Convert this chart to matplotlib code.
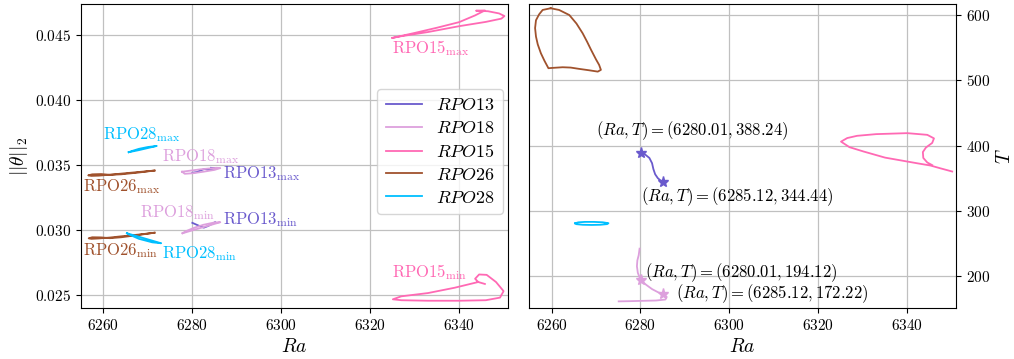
import matplotlib
matplotlib.use("Agg")
import matplotlib.pyplot as plt

plt.rcParams["font.family"] = "serif"
plt.rcParams["font.serif"] = ["cmr10"]
plt.rcParams["mathtext.fontset"] = "cm"
plt.rcParams["axes.formatter.use_mathtext"] = True

C13 = "#6a5acd"
C18 = "#dda0dd"
C15 = "#ff69b4"
C26 = "#a0522d"
C28 = "#00bfff"

# ---- norma ||theta||_2 (max / min) vs Ra ----
rpo13_max_ra = [6280.01, 6281.0, 6282.0, 6282.8, 6283.6, 6284.4, 6285.12, 6284.2]
rpo13_max_th = [0.03440, 0.03445, 0.03460, 0.03470, 0.03462, 0.03468, 0.03475, 0.03478]
rpo13_min_ra = [6280.01, 6281.0, 6282.0, 6282.6, 6283.5, 6284.5, 6285.12]
rpo13_min_th = [0.03055, 0.03040, 0.03025, 0.03018, 0.03030, 0.03048, 0.03060]

rpo18_max_ra = [6277.7, 6279.5, 6281.5, 6283.5, 6285.5, 6286.3, 6285.0, 6282.5, 6280.0, 6278.3, 6277.7]
rpo18_max_th = [0.03448, 0.03456, 0.03465, 0.03472, 0.03478, 0.03476, 0.03462, 0.03448, 0.03436, 0.03432, 0.03448]
rpo18_min_ra = [6277.8, 6279.5, 6281.5, 6283.5, 6285.5, 6286.3, 6285.0, 6282.5, 6280.5, 6278.5, 6277.8]
rpo18_min_th = [0.02975, 0.02992, 0.03012, 0.03032, 0.03052, 0.03060, 0.03058, 0.03040, 0.03018, 0.02990, 0.02975]

rpo15_max_ra = [6325.0, 6330.0, 6335.0, 6340.0, 6343.6, 6345.8, 6343.8, 6346.5, 6349.0, 6350.2,
                6349.5, 6346.0, 6340.0, 6333.0, 6327.0, 6325.0]
rpo15_max_th = [0.04477, 0.04515, 0.04555, 0.04598, 0.04650, 0.04688, 0.04686, 0.04682, 0.04665, 0.04645,
                0.04625, 0.04600, 0.04567, 0.04522, 0.04490, 0.04477]
rpo15_min_ra = [6345.8, 6344.3, 6343.6, 6344.5, 6346.2, 6348.3, 6350.0, 6349.2, 6346.0, 6340.0,
                6333.0, 6327.0, 6325.1, 6327.0, 6333.0, 6339.0, 6344.3]
rpo15_min_th = [0.02585, 0.02600, 0.02625, 0.02658, 0.02655, 0.02600, 0.02530, 0.02480, 0.02460, 0.02456,
                0.02456, 0.02460, 0.02467, 0.02490, 0.02515, 0.02556, 0.02600]

rpo26_max_ra = [6271.5, 6268.0, 6264.5, 6261.5, 6259.0, 6257.3, 6256.6, 6257.5, 6259.5, 6261.5, 6264.0, 6268.0, 6271.5]
rpo26_max_th = [0.03457, 0.03446, 0.03435, 0.03425, 0.03418, 0.03416, 0.03420, 0.03428, 0.03430, 0.03424, 0.03428, 0.03442, 0.03457]
rpo26_min_ra = [6271.5, 6268.0, 6264.5, 6261.5, 6259.0, 6257.3, 6256.7, 6257.5, 6259.5, 6261.5, 6264.0, 6268.0, 6271.5]
rpo26_min_th = [0.02979, 0.02965, 0.02953, 0.02942, 0.02935, 0.02932, 0.02936, 0.02944, 0.02943, 0.02937, 0.02944, 0.02962, 0.02979]

rpo28_max_ra = [6265.7, 6268.0, 6270.0, 6272.0, 6270.0, 6268.0, 6266.5, 6265.7]
rpo28_max_th = [0.03598, 0.03614, 0.03630, 0.03646, 0.03638, 0.03624, 0.03608, 0.03598]
rpo28_min_ra = [6265.3, 6268.0, 6271.0, 6273.0, 6271.0, 6268.0, 6265.8, 6265.3]
rpo28_min_th = [0.02975, 0.02948, 0.02918, 0.02898, 0.02905, 0.02932, 0.02965, 0.02975]

# ---- periodo T vs Ra ----
rpo13_ra = [6280.01, 6281.0, 6282.0, 6282.6, 6282.9, 6283.3, 6283.9, 6284.5, 6285.12]
rpo13_T = [388.24, 386.5, 381.0, 373.0, 364.0, 356.0, 350.0, 346.5, 344.44]

rpo18_ra = [6279.8, 6279.6, 6279.3, 6279.2, 6279.4, 6280.01, 6281.2, 6282.6, 6284.0, 6285.12,
            6285.9, 6285.6, 6283.5, 6280.5, 6277.5, 6275.1]
rpo18_T = [242.0, 232.0, 224.0, 215.0, 205.0, 194.12, 187.0, 180.0, 175.0, 172.22,
           168.0, 164.0, 162.5, 162.0, 161.5, 161.2]

rpo15_ra = [6350.1, 6347.5, 6345.2, 6342.5, 6340.0, 6335.0, 6330.2, 6327.0, 6325.1, 6326.5, 6328.7,
            6333.0, 6340.0, 6344.5, 6346.0, 6345.6, 6344.2, 6343.5, 6343.6, 6344.5, 6345.6]
rpo15_T = [360.2, 365.0, 369.4, 372.5, 375.5, 381.5, 390.8, 397.5, 406.0, 411.5, 414.9,
           417.5, 419.0, 416.4, 411.0, 404.0, 397.0, 390.0, 381.0, 374.0, 370.0]

rpo26_ra = [6259.8, 6261.7, 6264.0, 6265.6, 6267.0, 6268.0, 6268.9, 6270.0, 6270.7, 6271.1, 6270.4,
            6268.3, 6266.2, 6264.3, 6262.5, 6260.2, 6259.3, 6258.4, 6257.6, 6256.9, 6256.5, 6256.3,
            6256.5, 6257.2, 6258.0, 6259.8]
rpo26_T = [610.4, 607.8, 600.0, 587.0, 572.0, 559.0, 546.5, 532.0, 523.6, 516.0, 513.3,
           515.5, 517.5, 519.5, 520.0, 519.0, 518.5, 530.0, 541.5, 555.0, 567.0, 580.0,
           592.0, 601.0, 607.8, 610.4]

rpo28_ra = [6265.3, 6266.0, 6267.5, 6269.5, 6271.5, 6272.8, 6272.5, 6271.0, 6269.0, 6267.0, 6265.6, 6265.3]
rpo28_T = [280.8, 282.3, 283.0, 283.0, 282.4, 281.0, 279.6, 278.6, 278.3, 278.6, 279.5, 280.8]

# extremos marcados con estrella
rpo13_ends_ra = [6280.01, 6285.12]
rpo13_ends_T = [388.24, 344.44]
rpo18_ends_ra = [6280.01, 6285.12]
rpo18_ends_T = [194.12, 172.22]

fig = plt.figure(figsize=(10.14, 3.59), dpi=100)
ax1 = fig.add_axes([0.080, 0.142, 0.421, 0.847])
ax2 = fig.add_axes([0.522, 0.142, 0.421, 0.847])

lw = 1.3
ax1.plot(rpo13_max_ra, rpo13_max_th, color=C13, lw=lw, label=r"$RPO13$")
ax1.plot(rpo13_min_ra, rpo13_min_th, color=C13, lw=lw)
ax1.plot(rpo18_max_ra, rpo18_max_th, color=C18, lw=lw, label=r"$RPO18$")
ax1.plot(rpo18_min_ra, rpo18_min_th, color=C18, lw=lw)
ax1.plot(rpo15_max_ra, rpo15_max_th, color=C15, lw=lw, label=r"$RPO15$")
ax1.plot(rpo15_min_ra, rpo15_min_th, color=C15, lw=lw)
ax1.plot(rpo26_max_ra, rpo26_max_th, color=C26, lw=lw, label=r"$RPO26$")
ax1.plot(rpo26_min_ra, rpo26_min_th, color=C26, lw=lw)
ax1.plot(rpo28_max_ra, rpo28_max_th, color=C28, lw=lw, label=r"$RPO28$")
ax1.plot(rpo28_min_ra, rpo28_min_th, color=C28, lw=lw)

etiquetas = [
    (6325.0, 0.0440, "RPO15", "max", C15),
    (6325.0, 0.0268, "RPO15", "min", C15),
    (6260.0, 0.0373, "RPO28", "max", C28),
    (6273.3, 0.0282, "RPO28", "min", C28),
    (6273.3, 0.03562, "RPO18", "max", C18),
    (6268.3, 0.0313, "RPO18", "min", C18),
    (6287.0, 0.0343, "RPO13", "max", C13),
    (6287.0, 0.0308, "RPO13", "min", C13),
    (6255.5, 0.0333, "RPO26", "max", C26),
    (6255.5, 0.0284, "RPO26", "min", C26),
]
for x, y, nombre, sub, c in etiquetas:
    ax1.text(x, y, r"$\mathrm{%s}_{\mathrm{%s}}$" % (nombre, sub), color=c,
             fontsize=12, ha="left", va="center")

ax1.set_xlim(6255, 6351)
ax1.set_ylim(0.0240, 0.04738)
ax1.set_xticks([6260, 6280, 6300, 6320, 6340])
ax1.set_yticks([0.025, 0.030, 0.035, 0.040, 0.045])
ax1.set_xlabel(r"$Ra$", fontsize=14)
ax1.set_ylabel(r"$||\theta||_2$", fontsize=14)
ax1.grid(True, color="#c0c0c0", lw=0.9)
ax1.tick_params(labelsize=11)
ax1.legend(loc="center right", fontsize=13, bbox_to_anchor=(1.0, 0.515),
           labelspacing=0.38, borderpad=0.45, borderaxespad=0.3)

ax2.plot(rpo13_ra, rpo13_T, color=C13, lw=lw)
ax2.plot(rpo18_ra, rpo18_T, color=C18, lw=lw)
ax2.plot(rpo15_ra, rpo15_T, color=C15, lw=lw)
ax2.plot(rpo26_ra, rpo26_T, color=C26, lw=lw)
ax2.plot(rpo28_ra, rpo28_T, color=C28, lw=lw)
ax2.plot(rpo13_ends_ra, rpo13_ends_T, "*", color=C13, ms=8, ls="none")
ax2.plot(rpo18_ends_ra, rpo18_ends_T, "*", color=C18, ms=8, ls="none")

notas = [
    (rpo13_ends_ra[0], rpo13_ends_T[0], (-32, 16)),
    (rpo13_ends_ra[1], rpo13_ends_T[1], (-16, -11)),
    (rpo18_ends_ra[0], rpo18_ends_T[0], (3, 5.5)),
    (rpo18_ends_ra[1], rpo18_ends_T[1], (9.5, 0.5)),
]
for x, y, off in notas:
    ax2.annotate(r"$(Ra, T) = (%.2f, %.2f)$" % (x, y), (x, y), xytext=off,
                 textcoords="offset points", fontsize=12, ha="left", va="center")

ax2.set_xlim(6255, 6351)
ax2.set_ylim(151, 617)
ax2.set_xticks([6260, 6280, 6300, 6320, 6340])
ax2.set_yticks([200, 300, 400, 500, 600])
ax2.yaxis.tick_right()
ax2.yaxis.set_label_position("right")
ax2.set_xlabel(r"$Ra$", fontsize=14)
ax2.set_ylabel(r"$T$", fontsize=14)
ax2.grid(True, color="#c0c0c0", lw=0.9)
ax2.tick_params(labelsize=11)

fig.savefig("out.png", dpi=100)
plt.close(fig)
